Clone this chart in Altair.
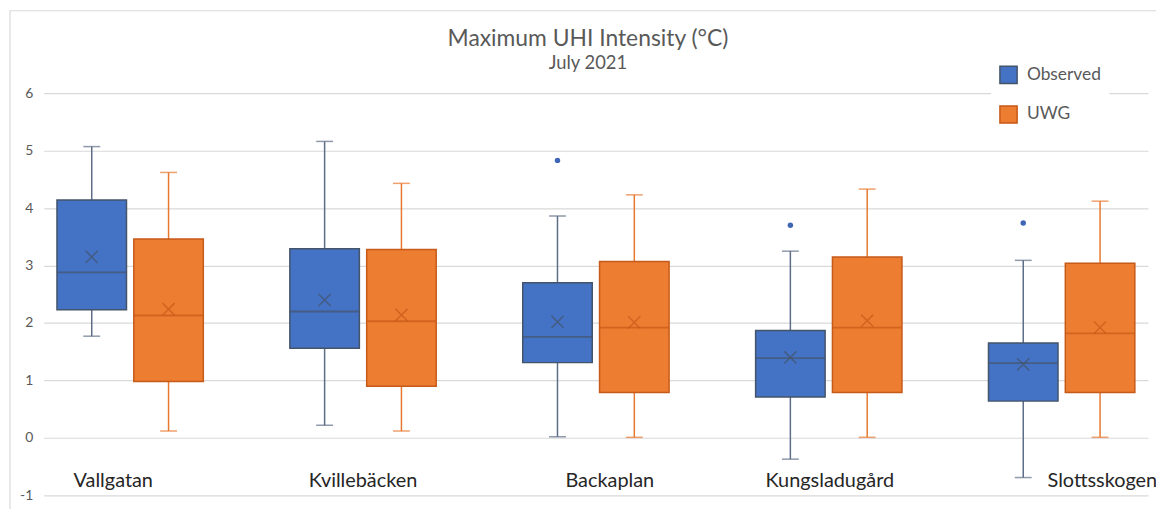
import altair as alt
import pandas as pd

sites = ["Vallgatan", "Kvillebäcken", "Backaplan", "Kungsladugård", "Slottsskogen"]
series = ["Observed", "UWG"]

obs_min = [1.77, 0.22, 0.02, -0.37, -0.69]
obs_q1 = [2.23, 1.56, 1.31, 0.71, 0.64]
obs_med = [2.88, 2.20, 1.76, 1.39, 1.30]
obs_q3 = [4.14, 3.29, 2.70, 1.87, 1.65]
obs_max = [5.07, 5.16, 3.86, 3.25, 3.09]
obs_mean = [3.15, 2.40, 2.02, 1.40, 1.28]

uwg_min = [0.12, 0.12, 0.01, 0.01, 0.01]
uwg_q1 = [0.98, 0.90, 0.79, 0.79, 0.79]
uwg_med = [2.13, 2.03, 1.92, 1.92, 1.82]
uwg_q3 = [3.46, 3.28, 3.07, 3.15, 3.04]
uwg_max = [4.62, 4.43, 4.23, 4.33, 4.12]
uwg_mean = [2.24, 2.14, 2.01, 2.04, 1.92]

outlier_sites = ["Backaplan", "Kungsladugård", "Slottsskogen"]
outlier_series = ["Observed", "Observed", "Observed"]
outlier_values = [4.83, 3.70, 3.74]

rows = []
for i, s in enumerate(sites):
    rows.append(dict(site=s, series="Observed", lo=obs_min[i], q1=obs_q1[i], med=obs_med[i],
                     q3=obs_q3[i], hi=obs_max[i], mean=obs_mean[i]))
    rows.append(dict(site=s, series="UWG", lo=uwg_min[i], q1=uwg_q1[i], med=uwg_med[i],
                     q3=uwg_q3[i], hi=uwg_max[i], mean=uwg_mean[i]))
df = pd.DataFrame(rows)
out_df = pd.DataFrame(dict(site=outlier_sites, series=outlier_series, value=outlier_values))

FONT = "Lato"
fill_range = ["#4472C4", "#ED7D31"]
edge_range = ["#44546A", "#C65A18"]
whisk_range = ["#5E6D86", "#E8782E"]

label_offset = {"condition": [
    {"test": "datum.value === 'Vallgatan'", "value": -17},
    {"test": "datum.value === 'Backaplan'", "value": 14},
    {"test": "datum.value === 'Kungsladugård'", "value": 1},
    {"test": "datum.value === 'Slottsskogen'", "value": 41},
], "value": 0}

x_enc = alt.X("site:N", sort=sites,
              scale=alt.Scale(paddingInner=0.36, paddingOuter=0.051),
              axis=alt.Axis(title=None, domain=False, ticks=False, orient="bottom",
                            labelAngle=0, labelFont=FONT, labelFontSize=20,
                            labelColor="#262626", labelBaseline="alphabetic",
                            labelPadding=-9, labelOffset=label_offset))
xo = alt.XOffset("series:N", sort=series, scale=alt.Scale(paddingInner=0.06, paddingOuter=0))
y_scale = alt.Scale(domain=[-1, 6], nice=False, zero=False)
y_axis = alt.Axis(title=None, domain=False, ticks=False, values=[-1, 0, 1, 2, 3, 4, 5, 6],
                  labelExpr="'' + datum.value", labelFont=FONT, labelFontSize=14,
                  labelColor="#595959", labelPadding=11, gridColor="#D9D9D9", gridWidth=1.2)

base = alt.Chart(df)

legend = alt.Legend(title=None, orient="none", legendX=954, legendY=-36,
                    symbolType="square", symbolSize=300, symbolStrokeWidth=1.5,
                    labelFont=FONT, labelFontSize=17.5, labelColor="#595959",
                    labelOffset=9, rowPadding=15, padding=8, fillColor="white")

whisker = base.mark_rule(strokeWidth=1.5).encode(
    x=x_enc, xOffset=xo,
    y=alt.Y("lo:Q", scale=y_scale, axis=y_axis), y2="hi:Q",
    color=alt.Color("series:N", scale=alt.Scale(domain=series, range=whisk_range), legend=None))

cap_lo = base.mark_tick(size=17, thickness=1.5).encode(
    x=x_enc, xOffset=xo, y=alt.Y("lo:Q", scale=y_scale),
    color=alt.Color("series:N", scale=alt.Scale(domain=series, range=whisk_range), legend=None))
cap_hi = base.mark_tick(size=17, thickness=1.5).encode(
    x=x_enc, xOffset=xo, y=alt.Y("hi:Q", scale=y_scale),
    color=alt.Color("series:N", scale=alt.Scale(domain=series, range=whisk_range), legend=None))

box = base.mark_bar(width=70, strokeWidth=1.5).encode(
    x=x_enc, xOffset=xo,
    y=alt.Y("q1:Q", scale=y_scale), y2="q3:Q",
    fill=alt.Fill("series:N", sort=series, scale=alt.Scale(domain=series, range=fill_range), legend=legend),
    stroke=alt.Stroke("series:N", sort=series, scale=alt.Scale(domain=series, range=edge_range), legend=legend))

median = base.mark_tick(size=70, thickness=1.8).encode(
    x=x_enc, xOffset=xo, y=alt.Y("med:Q", scale=y_scale),
    color=alt.Color("series:N", scale=alt.Scale(domain=series, range=edge_range), legend=None))

mean = base.mark_point(shape="M-1,-1L1,1M-1,1L1,-1", size=150, filled=False, strokeWidth=1.5).encode(
    x=x_enc, xOffset=xo, y=alt.Y("mean:Q", scale=y_scale),
    color=alt.Color("series:N", scale=alt.Scale(domain=series, range=edge_range), legend=None))

outliers = alt.Chart(out_df).mark_circle(size=30, opacity=1, color="#3E66B4").encode(
    x=x_enc, xOffset=alt.XOffset("series:N", scale=alt.Scale(domain=series, paddingInner=0.06, paddingOuter=0)),
    y=alt.Y("value:Q", scale=y_scale))

frame = alt.Chart(pd.DataFrame({"k": [0]})).mark_rect(fill=None, stroke="#D9D9D9", strokeWidth=1.2, clip=False).encode(
    x=alt.value(-34), x2=alt.value(1160), y=alt.value(-83), y2=alt.value(460))

chart = alt.layer(frame, whisker, cap_lo, cap_hi, box, median, mean, outliers).resolve_scale(
    color="independent"
).properties(
    width=1112, height=405,
    title=alt.TitleParams("Maximum UHI Intensity (°C)", subtitle="July 2021",
                          font=FONT, fontSize=23, fontWeight="normal", color="#595959",
                          subtitleFont=FONT, subtitleFontSize=18.5, subtitleColor="#595959",
                          subtitlePadding=3, anchor="middle", frame="group", dx=-8, offset=-63),
    autosize=alt.AutoSizeParams(type="none"),
    padding={"left": 36, "top": 84, "right": 8, "bottom": 12},
).configure_view(stroke=None).configure_axisX(grid=False)

chart.save("out.html", embed_options={"renderer": "svg", "actions": False})
